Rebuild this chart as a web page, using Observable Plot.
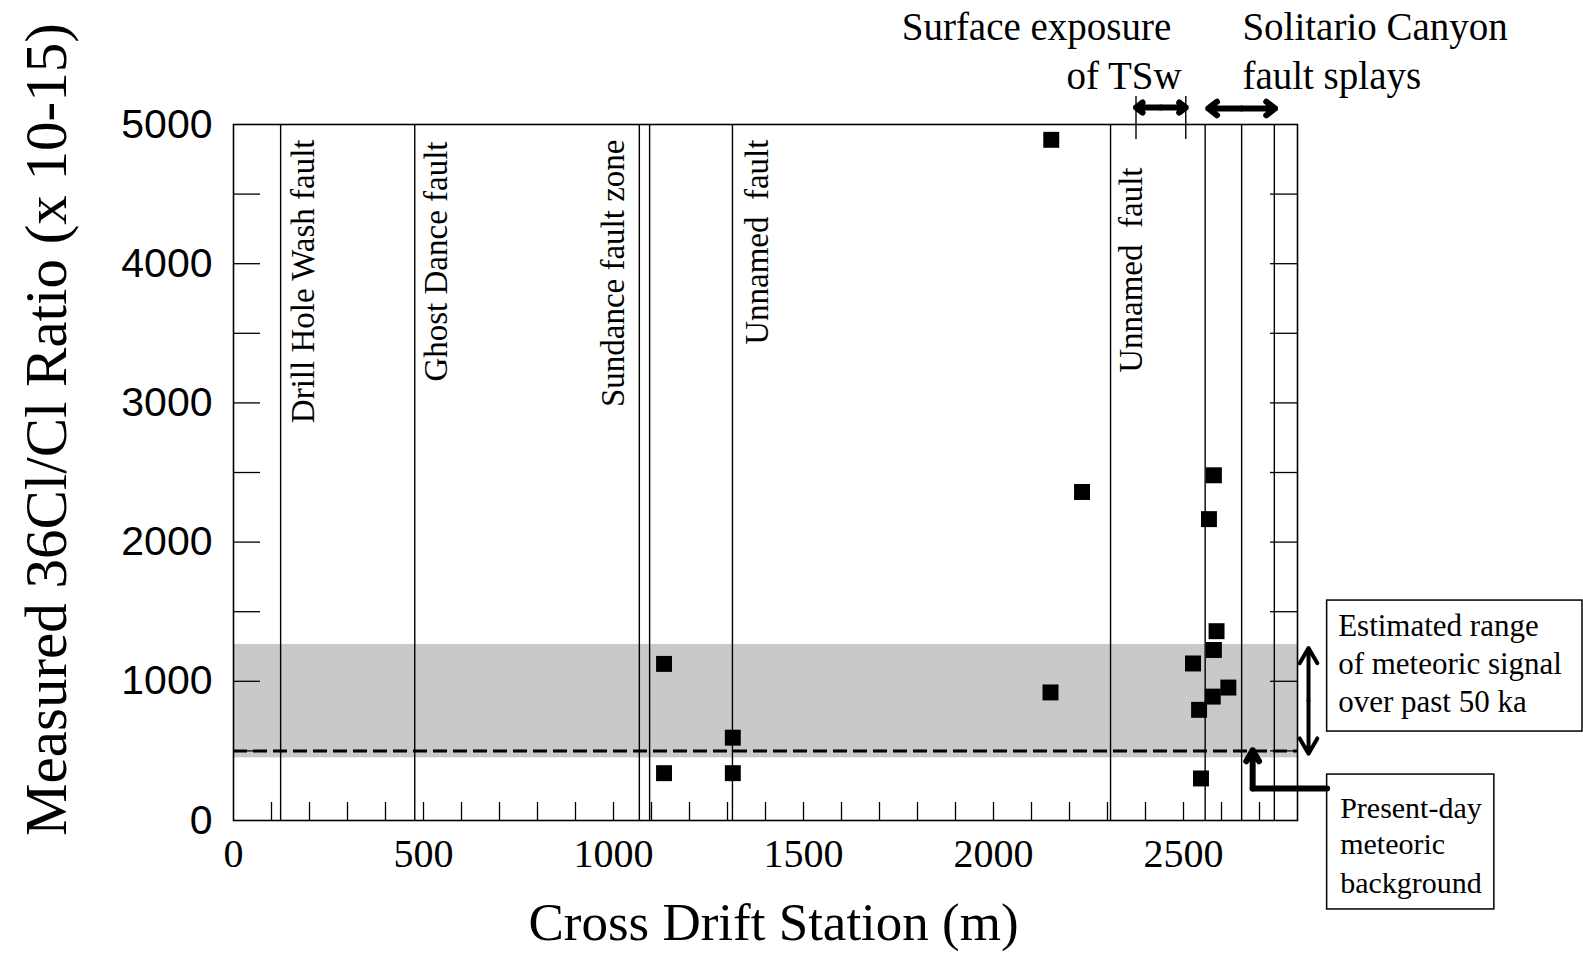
<!DOCTYPE html>
<html><head><meta charset="utf-8">
<script src="https://cdn.jsdelivr.net/npm/d3@7"></script>
<script src="https://cdn.jsdelivr.net/npm/@observablehq/plot@0.6"></script>
<style>html,body{margin:0;padding:0;background:#fff}#chart svg{display:block}</style>
</head><body><div id="chart"></div>
<script>
// ---- data ----
const stationX = [2152, 2233, 2150, 1133, 1133, 1314, 1314, 2580, 2567, 2587, 2580, 2525, 2618, 2577, 2541, 2546];
const ratioY   = [4890, 2360, 920, 1125, 340, 595, 340, 2480, 2165, 1360, 1225, 1128, 955, 890, 795, 302];
const faultLines = [124, 477, 1068, 1095, 1313, 2308, 2557, 2653, 2739];
const faultNames = ["Drill Hole Wash fault", "Ghost Dance fault", "Sundance fault zone", "Unnamed  fault", "Unnamed  fault"];
const faultLabelX = [124, 477, 1068, 1313, 2308];
const faultLabelTop = [4892, 4878, 4892, 4892, 4691];
const meteoricRange = [450, 1265];
const presentBackground = 500;
const xTickLabels = [0, 500, 1000, 1500, 2000, 2500];
const xMinorTicks = [100,200,300,400,500,600,700,800,900,1000,1100,1200,1300,1400,1500,1600,1700,1800,1900,2000,2100,2200,2300,2400,2500,2600,2700];
const yTickLabels = [0, 1000, 2000, 3000, 4000, 5000];
const yMinorTicks = [500, 1000, 1500, 2000, 2500, 3000, 3500, 4000, 4500];
const tswRange = [2375, 2506];
const solitarioRange = [2565, 2741];
const xTitle = "Cross Drift Station (m)";
const yTitle = "Measured 36Cl/Cl Ratio (x 10-15)";
const topNotes = [
  {text: "Surface exposure", x: 2468, y: 5697, anchor: "end"},
  {text: "of TSw", x: 2495, y: 5345, anchor: "end"},
  {text: "Solitario Canyon", x: 2655, y: 5697, anchor: "start"},
  {text: "fault splays", x: 2655, y: 5345, anchor: "start"}
];
const rangeNote = ["Estimated range", "of meteoric signal", "over past 50 ka"];
const rangeNoteY = [1394, 1121, 848];
const bgNote = ["Present-day", "meteoric", "background"];
const bgNoteY = [86, -172, -453];
const rangeBox = {x1: 2878, x2: 3550, y1: 639, y2: 1580};
const bgBox = {x1: 2878, x2: 3318, y1: -639, y2: 330};
const rangeArrow = {x: 2829, lo: 480, hi: 1240};
const bgArrow = {xBox: 2878, xCorner: 2682, yCorner: 230, yTip: 505};
const tswArrowY = 5122, tswMarks = [5201, 4892], solArrowY = 5115;

// ---- styles ----
const W = 1583, H = 955, mL = 233, mR = 286, mT = 124, mB = 135;
const frameW = W - mL - mR, frameH = H - mT - mB;
const serif = "Liberation Serif, Times New Roman, serif";
const sans = "Liberation Sans, Arial, sans-serif";
const faultDx = [23, 22, -26, 25, 21];

const points = stationX.map((x, i) => ({x, y: ratioY[i]}));
const faults = faultNames.map((name, i) => ({name, x: faultLabelX[i], y: faultLabelTop[i], dx: faultDx[i]}));
const mid = r => (r[0] + r[1]) / 2;

const chart = Plot.plot({
  width: W, height: H,
  marginLeft: mL, marginRight: mR, marginTop: mT, marginBottom: mB,
  x: {domain: [0, 2800]},
  y: {domain: [0, 5000]},
  style: {background: "white", overflow: "visible", fontFamily: serif, color: "black"},
  marks: [
    Plot.rect([{y1: meteoricRange[0], y2: meteoricRange[1]}], {y1: "y1", y2: "y2", fill: "#c9c9c9"}),
    Plot.ruleY([presentBackground], {stroke: "black", strokeWidth: 3, strokeDasharray: "14,6"}),
    Plot.ruleX(faultLines, {stroke: "black", strokeWidth: 1.4}),
    Plot.tickY(yMinorTicks, {y: d => d, insetRight: frameW - 27, stroke: "black", strokeWidth: 1.3}),
    Plot.tickY(yMinorTicks, {y: d => d, insetLeft: frameW - 27, stroke: "black", strokeWidth: 1.3}),
    Plot.tickX(xMinorTicks, {x: d => d, insetTop: frameH - 18, stroke: "black", strokeWidth: 1.3}),
    Plot.axisY(yTickLabels, {tickSize: 0, tickPadding: 21, fontSize: 41, fontFamily: sans, label: null, tickFormat: d => String(d)}),
    Plot.axisX(xTickLabels, {tickSize: 0, tickPadding: 18, fontSize: 40, fontFamily: serif, label: null, tickFormat: d => String(d)}),
    Plot.frame({stroke: "black", strokeWidth: 1.6}),
    Plot.dot(points, {x: "x", y: "y", symbol: "square", r: 9, fill: "black", stroke: null}),
    ...faults.map(f => Plot.text([f], {x: "x", y: "y", text: "name", rotate: -90, textAnchor: "end",
      lineAnchor: "middle", dx: f.dx, fontSize: 33, fontFamily: serif, fill: "black", ariaLabel: "fault-label"})),
    // axis titles
    Plot.text([xTitle], {frameAnchor: "bottom", textAnchor: "middle", dx: 8, dy: 119, fontSize: 53, fontFamily: serif, fill: "black"}),
    Plot.text([yTitle], {frameAnchor: "left", textAnchor: "middle", dx: -186, dy: -43, rotate: -90, fontSize: 59, fontFamily: serif, fill: "black", ariaLabel: "y-title"}),
    // top annotations
    Plot.text(topNotes.filter(d => d.anchor === "end"), {x: "x", y: "y", text: "text", textAnchor: "end", fontSize: 39, fontFamily: serif, fill: "black"}),
    Plot.text(topNotes.filter(d => d.anchor === "start"), {x: "x", y: "y", text: "text", textAnchor: "start", fontSize: 39, fontFamily: serif, fill: "black"}),
    // TSw range arrow with marker lines
    Plot.ruleX(tswRange, {y1: tswMarks[0], y2: tswMarks[1], stroke: "black", strokeWidth: 1.4}),
    Plot.arrow([{a: mid(tswRange), b: tswRange[0]}, {a: mid(tswRange), b: tswRange[1]}],
      {x1: "a", x2: "b", y1: () => tswArrowY, y2: () => tswArrowY, stroke: "black", strokeWidth: 6, headLength: 11, headAngle: 75}),
    Plot.arrow([{a: mid(solitarioRange), b: solitarioRange[0]}, {a: mid(solitarioRange), b: solitarioRange[1]}],
      {x1: "a", x2: "b", y1: () => solArrowY, y2: () => solArrowY, stroke: "black", strokeWidth: 6, headLength: 11, headAngle: 75}),
    // right-hand boxes
    Plot.rect([rangeBox], {x1: "x1", x2: "x2", y1: "y1", y2: "y2", fill: "white", stroke: "black", strokeWidth: 1.5}),
    Plot.rect([bgBox], {x1: "x1", x2: "x2", y1: "y1", y2: "y2", fill: "white", stroke: "black", strokeWidth: 1.5}),
    Plot.text(rangeNote, {x: () => rangeBox.x1, y: (d, i) => rangeNoteY[i], text: d => d, textAnchor: "start", dx: 11, fontSize: 31, fontFamily: serif, fill: "black"}),
    Plot.text(bgNote, {x: () => bgBox.x1, y: (d, i) => bgNoteY[i], text: d => d, textAnchor: "start", dx: 13, fontSize: 30, fontFamily: serif, fill: "black"}),
    // vertical double arrow for meteoric range
    Plot.arrow([{a: mid([rangeArrow.lo, rangeArrow.hi]), b: rangeArrow.hi}, {a: mid([rangeArrow.lo, rangeArrow.hi]), b: rangeArrow.lo}],
      {x1: () => rangeArrow.x, x2: () => rangeArrow.x, y1: "a", y2: "b", stroke: "black", strokeWidth: 4, headLength: 13, headAngle: 60}),
    // elbow arrow to present-day background
    Plot.line([{x: bgArrow.xBox, y: bgArrow.yCorner}, {x: bgArrow.xCorner, y: bgArrow.yCorner}], {x: "x", y: "y", stroke: "black", strokeWidth: 6, strokeLinejoin: "round"}),
    Plot.arrow([{x1: bgArrow.xCorner, y1: bgArrow.yCorner, x2: bgArrow.xCorner, y2: bgArrow.yTip}],
      {x1: "x1", y1: "y1", x2: "x2", y2: "y2", stroke: "black", strokeWidth: 6, headLength: 13, headAngle: 60})
  ]
});

// whitespace as in the reference fault labels
d3.select(chart).selectAll('g[aria-label="fault-label"] text').style("white-space", "pre");
// superscript in the y title
d3.select(chart).selectAll('g[aria-label="y-title"] text').each(function() {
  this.textContent = "";
  const t = d3.select(this);
  t.append("tspan").text("Measured ");
  t.append("tspan").attr("dy", -20).attr("font-size", 47).text("36");
  t.append("tspan").attr("dy", 20).text("Cl/Cl Ratio (x 10-15)");
});

document.getElementById("chart").appendChild(chart);
</script>
</body></html>
